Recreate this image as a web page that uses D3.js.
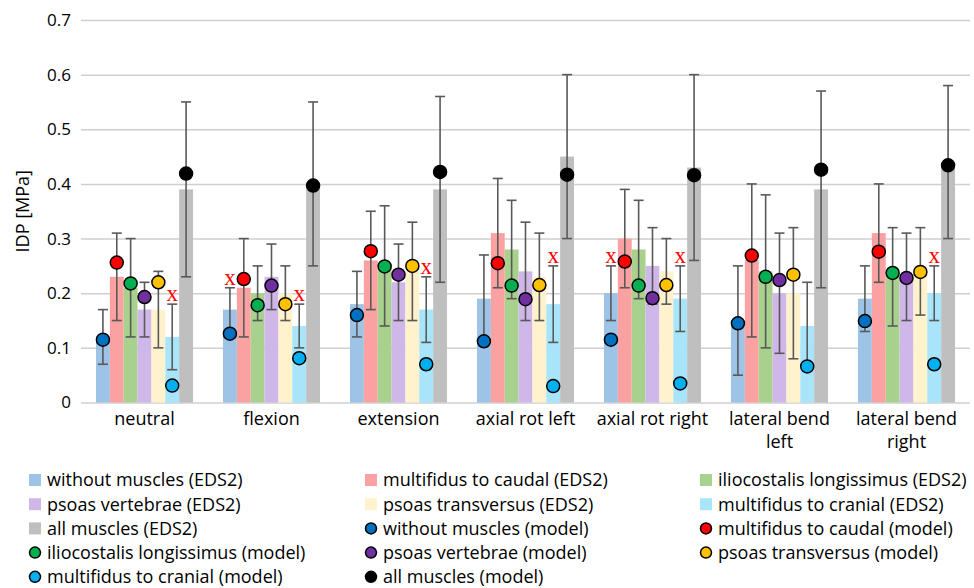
<!DOCTYPE html>
<html>
<head>
<meta charset="utf-8">
<script src="https://cdn.jsdelivr.net/npm/d3@7"></script>
<style>
body { margin:0; background:#fff; }
text { font-family: "Open Sans", "Liberation Sans", sans-serif; fill:#000; }
</style>
</head>
<body>
<svg id="graph1"></svg>
<script>
// categories on the x axis (second line after \n)
var categories = ["neutral", "flexion", "extension", "axial rot left", "axial rot right", "lateral bend\nleft", "lateral bend\nright"]

// series order inside each group
var seriesNames = ["without muscles", "multifidus to caudal", "iliocostalis longissimus", "psoas vertebrae", "psoas transversus", "multifidus to cranial", "all muscles"]

// EDS2 means (bars), one row per category
var edsMean = [
    [0.12, 0.23, 0.21, 0.17, 0.17, 0.12, 0.39],
    [0.17, 0.21, 0.20, 0.23, 0.20, 0.14, 0.40],
    [0.18, 0.26, 0.25, 0.22, 0.24, 0.17, 0.39],
    [0.19, 0.31, 0.28, 0.24, 0.23, 0.18, 0.45],
    [0.20, 0.30, 0.28, 0.25, 0.24, 0.19, 0.43],
    [0.15, 0.26, 0.24, 0.20, 0.20, 0.14, 0.39],
    [0.19, 0.31, 0.23, 0.23, 0.24, 0.20, 0.44]
]

// EDS2 standard deviations (error bars)
var edsSd = [
    [0.05, 0.08, 0.09, 0.05, 0.07, 0.06, 0.16],
    [0.04, 0.09, 0.05, 0.06, 0.05, 0.04, 0.15],
    [0.06, 0.09, 0.11, 0.07, 0.09, 0.06, 0.17],
    [0.08, 0.10, 0.09, 0.09, 0.08, 0.07, 0.15],
    [0.05, 0.09, 0.09, 0.07, 0.06, 0.06, 0.17],
    [0.10, 0.14, 0.14, 0.11, 0.12, 0.08, 0.18],
    [0.06, 0.09, 0.09, 0.08, 0.08, 0.05, 0.14]
]

// model values (dots)
var modelVals = [
    [0.115, 0.256, 0.218, 0.193, 0.220, 0.031, 0.419],
    [0.126, 0.226, 0.178, 0.214, 0.180, 0.081, 0.397],
    [0.160, 0.277, 0.249, 0.234, 0.250, 0.070, 0.422],
    [0.112, 0.255, 0.214, 0.189, 0.215, 0.030, 0.417],
    [0.115, 0.258, 0.214, 0.191, 0.215, 0.035, 0.416],
    [0.145, 0.269, 0.230, 0.224, 0.234, 0.066, 0.426],
    [0.149, 0.276, 0.237, 0.228, 0.239, 0.070, 0.434]
]

// red "x" marks: [category index, series index]
var xMarks = [[0, 5], [1, 0], [1, 5], [2, 5], [3, 5], [4, 0], [4, 5], [6, 5]]

var yTicks = [0, 0.1, 0.2, 0.3, 0.4, 0.5, 0.6, 0.7]
var yTickLabels = ["0", "0.1", "0.2", "0.3", "0.4", "0.5", "0.6", "0.7"]

var barColors = ["#9DC3E6", "#FCA1A1", "#A9D18E", "#D0B7EA", "#FFF2CC", "#A8E4FA", "#BFBFBF"]
var dotColors = ["#0070C0", "#FF0000", "#00B050", "#7030A0", "#FFC000", "#00B0F0", "#000000"]

var screen = {width:974, height:588}
var plot = {left:81, right:970, top:20, bottom:402.5}

var svg = d3.select("#graph1")
    .attr("width", screen.width)
    .attr("height", screen.height)

var xScale = d3.scaleBand()
    .domain(d3.range(categories.length))
    .range([plot.left, plot.right])
    .paddingInner(0.236)
    .paddingOuter(0.118)

var xInner = d3.scaleBand()
    .domain(d3.range(seriesNames.length))
    .range([0, xScale.bandwidth()])

var yScale = d3.scaleLinear()
    .domain([0, 0.7])
    .range([plot.bottom, plot.top])

// gridlines + tick labels
var yAxis = d3.axisLeft(yScale)
    .tickValues(yTicks)
    .tickSize(-(plot.right - plot.left))
    .tickPadding(10)
    .tickFormat(function(d, i){ return yTickLabels[i] })

var gy = svg.append("g")
    .attr("transform", "translate(" + plot.left + ",0)")
    .call(yAxis)
gy.select(".domain").remove()
gy.selectAll("line").attr("stroke", "#CFCFCF").attr("stroke-width", 1.5)
gy.selectAll("text").style("font-size", "17px").attr("fill", "#000")

svg.append("text")
    .attr("transform", "translate(23," + ((plot.top + plot.bottom) / 2) + ") rotate(-90)")
    .attr("text-anchor", "middle")
    .attr("dy", "0.35em")
    .style("font-size", "18px")
    .text("IDP [MPa]")

// category labels
var catLabels = svg.append("g").selectAll("text")
    .data(categories)
    .enter()
    .append("text")
    .attr("text-anchor", "middle")
    .attr("x", function(d, i){ return xScale(i) + xScale.bandwidth() / 2 })
    .attr("y", 425)
    .style("font-size", "18px")
catLabels.each(function(d){
    var t = d3.select(this)
    d.split("\n").forEach(function(line, k){
        t.append("tspan")
            .attr("x", t.attr("x"))
            .attr("dy", k == 0 ? 0 : 23)
            .text(line)
    })
})

// flatten into cells
var cells = []
categories.forEach(function(c, i){
    seriesNames.forEach(function(s, j){
        cells.push({cat:i, ser:j, mean:edsMean[i][j], sd:edsSd[i][j], model:modelVals[i][j]})
    })
})

var cx = function(d){ return xScale(d.cat) + xInner(d.ser) + xInner.bandwidth() / 2 }

svg.append("g").selectAll("rect")
    .data(cells)
    .enter()
    .append("rect")
    .attr("x", function(d){ return xScale(d.cat) + xInner(d.ser) })
    .attr("width", xInner.bandwidth())
    .attr("y", function(d){ return yScale(d.mean) })
    .attr("height", function(d){ return yScale(0) - yScale(d.mean) })
    .attr("fill", function(d){ return barColors[d.ser] })

// error bars
var eb = svg.append("g")
    .attr("stroke", "#595959")
    .attr("stroke-width", 1.6)
    .selectAll("g")
    .data(cells)
    .enter()
    .append("g")
eb.append("line")
    .attr("x1", cx).attr("x2", cx)
    .attr("y1", function(d){ return yScale(d.mean - d.sd) })
    .attr("y2", function(d){ return yScale(d.mean + d.sd) })
eb.append("line")
    .attr("x1", function(d){ return cx(d) - 5 }).attr("x2", function(d){ return cx(d) + 5 })
    .attr("y1", function(d){ return yScale(d.mean + d.sd) })
    .attr("y2", function(d){ return yScale(d.mean + d.sd) })
eb.append("line")
    .attr("x1", function(d){ return cx(d) - 5 }).attr("x2", function(d){ return cx(d) + 5 })
    .attr("y1", function(d){ return yScale(d.mean - d.sd) })
    .attr("y2", function(d){ return yScale(d.mean - d.sd) })

// model dots
svg.append("g").selectAll("circle")
    .data(cells)
    .enter()
    .append("circle")
    .attr("cx", cx)
    .attr("cy", function(d){ return yScale(d.model) })
    .attr("r", 6.5)
    .attr("fill", function(d){ return dotColors[d.ser] })
    .attr("stroke", "#000")
    .attr("stroke-width", 1.5)

// red x marks above error bars
svg.append("g").selectAll("text")
    .data(xMarks)
    .enter()
    .append("text")
    .attr("x", function(d){ return cx({cat:d[0], ser:d[1]}) })
    .attr("y", function(d){ return yScale(edsMean[d[0]][d[1]] + edsSd[d[0]][d[1]]) - 3 })
    .attr("text-anchor", "middle")
    .style("font-family", "'Liberation Serif', serif")
    .style("font-size", "23px")
    .style("fill", "#FF0000")
    .text("x")

// legend
var legendItems = []
seriesNames.forEach(function(s, j){ legendItems.push({label:s + " (EDS2)", type:"bar", ser:j}) })
seriesNames.forEach(function(s, j){ legendItems.push({label:s + " (model)", type:"dot", ser:j}) })

var legCols = [29, 365, 700]
var leg = svg.append("g").selectAll("g")
    .data(legendItems)
    .enter()
    .append("g")
    .attr("transform", function(d, i){ return "translate(" + legCols[i % 3] + "," + (480 + Math.floor(i / 3) * 24.2) + ")" })

leg.filter(function(d){ return d.type == "bar" })
    .append("rect")
    .attr("x", 0).attr("y", -6)
    .attr("width", 12).attr("height", 12)
    .attr("fill", function(d){ return barColors[d.ser] })
leg.filter(function(d){ return d.type == "dot" })
    .append("circle")
    .attr("cx", 6).attr("cy", 0).attr("r", 5.5)
    .attr("fill", function(d){ return dotColors[d.ser] })
    .attr("stroke", "#000").attr("stroke-width", 1.5)
leg.append("text")
    .attr("x", 18)
    .attr("dy", "0.35em")
    .style("font-size", "18px")
    .text(function(d){ return d.label })
</script>
</body>
</html>
